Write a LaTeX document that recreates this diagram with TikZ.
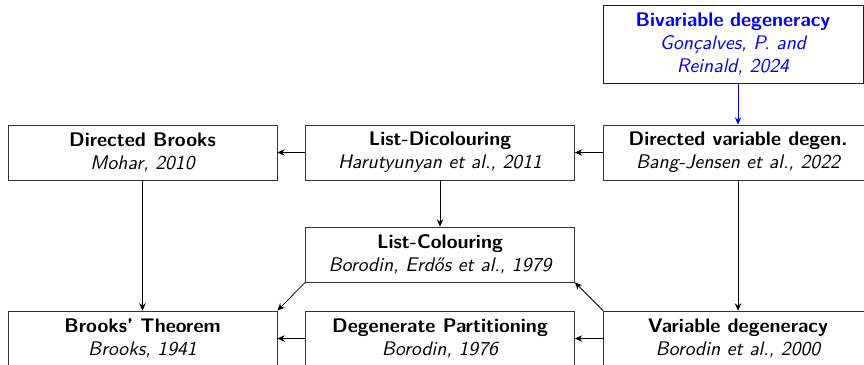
\documentclass[tikz,border=0pt]{standalone}
\usetikzlibrary{arrows.meta}

\tikzset{
  res/.style={draw, black!80, text=black, align=center,
    font=\sffamily\fontsize{10.7}{12.5}\selectfont,
    minimum width=146.2pt, minimum height=29.9pt, inner sep=2pt},
  newres/.style={res, draw=blue, text=blue, text width=112pt,
    minimum width=141.3pt, minimum height=42.4pt},
  imp/.style={-{Stealth[length=4pt,width=3.5pt]}, black}
}

\begin{document}
\begin{tikzpicture}[x=0.5435pt, y=-0.5435pt]
  \useasboundingbox (0,0) rectangle (864,364);

  % top: the new result
  \node[newres] (bivar) at (733,44) {{\bfseries Bivariable degeneracy}\\{\itshape Gon\c{c}alves, P. and Reinald, 2024}};

  % directed results
  \node[res] (dbrooks) at (142.5,152.5) {{\bfseries Directed Brooks}\\{\itshape Mohar, 2010}};
  \node[res] (listdi) at (440,152.5) {{\bfseries List-Dicolouring}\\{\itshape Harutyunyan et al., 2011}};
  \node[res] (dvardeg) at (738,152.5) {{\bfseries Directed variable degen.}\\{\itshape Bang-Jensen et al., 2022}};

  \node[res] (listcol) at (440,254.5) {{\bfseries List-Colouring}\\{\itshape Borodin, Erd\H{o}s et al., 1979}};

  % undirected results
  \node[res] (brooks) at (142.5,338.5) {{\bfseries Brooks' Theorem}\\{\itshape Brooks, 1941}};
  \node[res] (degpart) at (440,338.5) {{\bfseries Degenerate Partitioning}\\{\itshape Borodin, 1976}};
  \node[res] (vardeg) at (738,338.5) {{\bfseries Variable degeneracy}\\{\itshape Borodin et al., 2000}};

  \draw[imp, blue] (dvardeg.north |- bivar.south) -- (dvardeg.north);
  \draw[imp] (dvardeg) -- (listdi);
  \draw[imp] (listdi) -- (dbrooks);
  \draw[imp] (listdi) -- (listcol);
  \draw[imp] (dbrooks) -- (brooks);
  \draw[imp] (dvardeg) -- (vardeg);
  \draw[imp] (vardeg.north west) -- (listcol.south east);
  \draw[imp] (listcol.south west) -- (brooks.north east);
  \draw[imp] (vardeg) -- (degpart);
  \draw[imp] (degpart) -- (brooks);
\end{tikzpicture}
\end{document}
